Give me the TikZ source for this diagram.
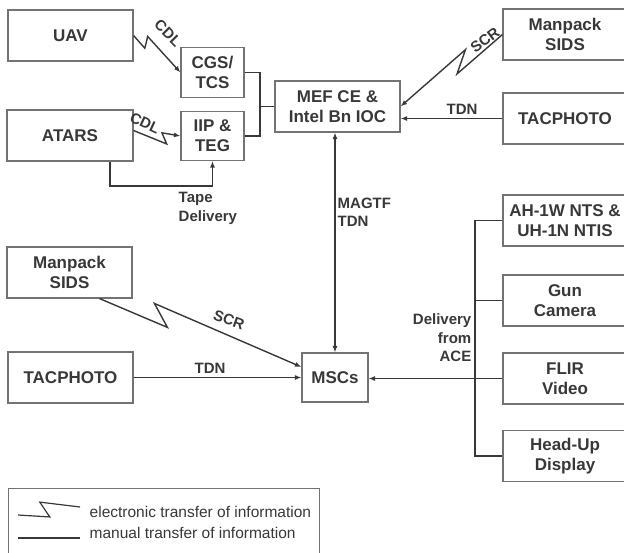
\documentclass[tikz,border=0pt]{standalone}
\usepackage{fontspec}
\setmainfont{Liberation Sans}
\usetikzlibrary{arrows.meta,calc}

\definecolor{inkgray}{gray}{0.22}
\definecolor{framegray}{gray}{0.45}

\begin{document}
\begin{tikzpicture}[x=1pt,y=-1pt,line width=1.4pt,>={Latex[length=6.5pt,width=5pt]},
  box/.style={draw=framegray,line width=1.1pt,inner sep=0pt,align=center,
    font=\fontsize{17}{20}\selectfont\bfseries,text=inkgray},
  lbl/.style={font=\fontsize{15}{18.5}\selectfont\bfseries,text=inkgray,inner sep=0pt},
  keytext/.style={font=\fontsize{15.5}{18}\selectfont,text=inkgray,inner sep=0pt,anchor=west},
  wire/.style={draw=inkgray},
  bolt/.style n args={4}{to path={
    -- ($(\tikztostart)!#1!(\tikztotarget)!#2!-90:(\tikztotarget)$)
    -- ($(\tikztostart)!#1!(\tikztotarget)!#3!(\tikztotarget)!#4!90:(\tikztotarget)$)
    -- (\tikztotarget) \tikztonodes}}]
  \useasboundingbox (0,0) rectangle (624,552);

  % sources, upper half
  \node[box,minimum width=125,minimum height=51] (uav) at (70.5,35.5) {UAV};
  \node[box,minimum width=63,minimum height=50] (cgs) at (212.5,72.5) {CGS/\\TCS};
  \node[box,minimum width=126,minimum height=51] (atars) at (70,135.5) {ATARS};
  \node[box,minimum width=63,minimum height=49] (iip) at (212.5,136) {IIP \&\\TEG};
  \node[box,minimum width=125,minimum height=51] (mef) at (337.5,106.5) {MEF CE \&\\Intel Bn IOC};
  \node[box,minimum width=124,minimum height=51] (sidsa) at (565,34.5) {Manpack\\SIDS};
  \node[box,minimum width=124,minimum height=51] (tacA) at (565,118.5) {TACPHOTO};

  % lower half
  \node[box,minimum width=125,minimum height=51] (sidsb) at (69.5,272.5) {Manpack\\SIDS};
  \node[box,minimum width=125,minimum height=51] (tacB) at (70.5,377.5) {TACPHOTO};
  \node[box,minimum width=66,minimum height=49] (mscs) at (335,377.5) {MSCs};
  \node[box,minimum width=124,minimum height=51] (ah) at (565,220.5) {AH-1W NTS \&\\UH-1N NTIS};
  \node[box,minimum width=124,minimum height=51] (gun) at (565,300.5) {Gun\\Camera};
  \node[box,minimum width=124,minimum height=51] (flir) at (565,378.5) {FLIR\\Video};
  \node[box,minimum width=124,minimum height=51] (hud) at (565,456) {Head-Up\\Display};

  \coordinate (jn) at (260,106.5);
  \coordinate (tp) at (110,186);
  \coordinate (bus) at (475,220.5);
  \coordinate (scrA) at ($(sidsb.south)+(30,0)$);
  \coordinate (scrB) at ($(mscs.west)+(0,-10.5)$);
  \coordinate (cdlA) at ($(atars.east)+(0,-5)$);

  % manual links
  \draw[wire] (cgs.east) -| (jn) |- (iip.east);
  \draw[wire] (jn) -- (mef.west);
  \draw[wire,->] (tp |- atars.south) -- (tp) -| (iip.south);
  \draw[wire,->] (tacA.west) -- (tacA.west -| mef.east);
  \draw[wire,<->] (mscs.north) -- (mscs.north |- mef.south);
  \draw[wire,->] (tacB.east) -- (tacB.east -| mscs.west);
  \draw[wire] (ah.west) -- (ah.west -| bus) |- (hud.west);
  \draw[wire] (gun.west) -- (gun.west -| bus);
  \draw[wire,->] (flir.west) -- (flir.west -| mscs.east);

  % electronic links
  \draw[wire,->] (uav.east) to[bolt={0.28}{3pt}{-5pt}{8pt}] (cgs.west);
  \draw[wire,->] (cdlA) to[bolt={0.73}{9.5pt}{-6pt}{1pt}] (iip.west);
  \draw[wire,->] (sidsa.west) to[bolt={0.48}{-6pt}{-21pt}{-9pt}] (mef.east);
  \draw[wire,->] (scrA) to[bolt={0.345}{5.5pt}{-20pt}{13pt}] (scrB);

  % link labels
  \node[lbl,rotate=-45] (cdl1) at (168,33) {CDL};
  \node[lbl,rotate=-25] (cdl2) at (145,123) {CDL};
  \node[lbl,rotate=37] (scr1) at (485,40) {SCR};
  \node[lbl] (tdn1) at (462,109) {TDN};
  \node[lbl,align=left,anchor=west] (tape) at (178,208.5) {Tape\\Delivery};
  \node[lbl,align=left,anchor=west] (magtf) at (337,212.5) {MAGTF\\TDN};
  \node[lbl,align=right,anchor=east] (ace) at (472,338) {Delivery\\from\\ACE};
  \node[lbl,rotate=-20] (scr2) at (229,320) {SCR};
  \node[lbl] (tdn2) at (210,368) {TDN};

  % key
  \node[draw=framegray,line width=1pt,minimum width=311,minimum height=70,anchor=north west] (key) at (8,488) {};
  \coordinate (kA) at (18,515);
  \coordinate (kB) at (80,507);
  \coordinate (kC) at (18,538);
  \coordinate (kD) at (80,538);
  \draw[wire,line width=1.2pt] (kA) to[bolt={0.5}{6pt}{-8pt}{10pt}] (kB);
  \draw[wire,line width=1.2pt] (kC) -- (kD);
  \node[keytext] (ktxt1) at (89,512) {electronic transfer of information};
  \node[keytext] (ktxt2) at (89,533) {manual transfer of information};
\end{tikzpicture}
\end{document}
